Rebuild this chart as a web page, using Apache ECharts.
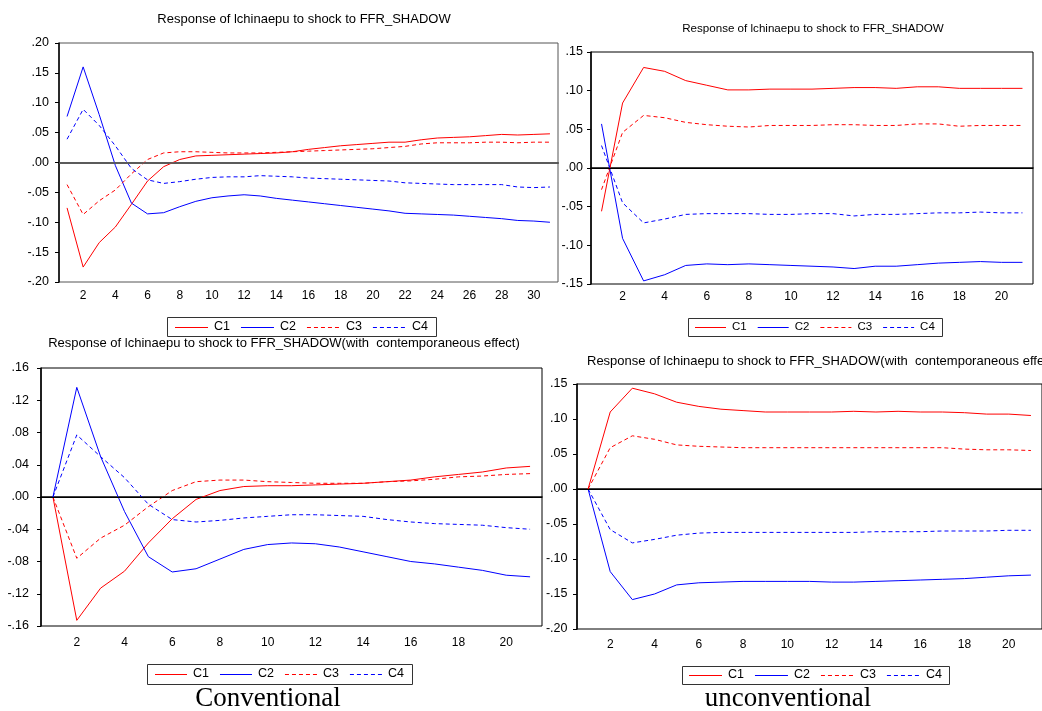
<!DOCTYPE html>
<html>
<head>
<meta charset="utf-8">
<script src="https://cdn.jsdelivr.net/npm/echarts@6/dist/echarts.min.js"></script>
<style>
  html, body { margin: 0; padding: 0; background: #fff; }
  #chart { width: 1042px; height: 711px; }
</style>
</head>
<body>
<div id="chart"></div>
<script>
// horizons
const steps31 = Array.from({ length: 31 }, (_, i) => String(i + 1))
const steps21 = Array.from({ length: 21 }, (_, i) => String(i + 1))
const names = ['C1', 'C2', 'C3', 'C4']

// top left: conventional
const p1C1 = [-0.076, -0.175, -0.134, -0.108, -0.070, -0.031, -0.007, 0.005, 0.011, 0.012, 0.013, 0.014, 0.015, 0.016, 0.018, 0.022, 0.025, 0.028, 0.030, 0.032, 0.034, 0.034, 0.038, 0.041, 0.042, 0.043, 0.045, 0.047, 0.046, 0.047, 0.048]
const p1C2 = [0.077, 0.160, 0.080, -0.005, -0.068, -0.086, -0.084, -0.074, -0.065, -0.059, -0.056, -0.054, -0.056, -0.060, -0.063, -0.066, -0.069, -0.072, -0.075, -0.078, -0.081, -0.085, -0.086, -0.087, -0.088, -0.090, -0.092, -0.094, -0.097, -0.098, -0.100]
const p1C3 = [-0.037, -0.087, -0.064, -0.046, -0.019, 0.005, 0.016, 0.018, 0.018, 0.017, 0.016, 0.016, 0.016, 0.017, 0.018, 0.019, 0.020, 0.021, 0.022, 0.023, 0.025, 0.027, 0.031, 0.033, 0.033, 0.033, 0.034, 0.034, 0.033, 0.034, 0.034]
const p1C4 = [0.039, 0.089, 0.062, 0.028, -0.010, -0.029, -0.035, -0.032, -0.028, -0.025, -0.024, -0.024, -0.022, -0.023, -0.024, -0.026, -0.027, -0.028, -0.029, -0.030, -0.031, -0.034, -0.035, -0.036, -0.037, -0.037, -0.037, -0.037, -0.041, -0.042, -0.041]

// top right: unconventional
const p2C1 = [-0.056, 0.084, 0.130, 0.125, 0.113, 0.107, 0.101, 0.101, 0.102, 0.102, 0.102, 0.103, 0.104, 0.104, 0.103, 0.105, 0.105, 0.103, 0.103, 0.103, 0.103]
const p2C2 = [0.057, -0.091, -0.146, -0.138, -0.126, -0.124, -0.125, -0.124, -0.125, -0.126, -0.127, -0.128, -0.130, -0.127, -0.127, -0.125, -0.123, -0.122, -0.121, -0.122, -0.122]
const p2C3 = [-0.028, 0.046, 0.068, 0.065, 0.059, 0.056, 0.054, 0.053, 0.055, 0.055, 0.055, 0.056, 0.056, 0.055, 0.055, 0.057, 0.057, 0.054, 0.055, 0.055, 0.055]
const p2C4 = [0.029, -0.045, -0.071, -0.066, -0.060, -0.059, -0.059, -0.059, -0.060, -0.060, -0.059, -0.059, -0.062, -0.060, -0.060, -0.059, -0.058, -0.058, -0.057, -0.058, -0.058]

// bottom left: conventional, contemporaneous effect
const p3C1 = [0, -0.153, -0.113, -0.092, -0.057, -0.027, -0.003, 0.008, 0.013, 0.014, 0.014, 0.015, 0.016, 0.017, 0.019, 0.021, 0.025, 0.028, 0.031, 0.036, 0.038]
const p3C2 = [0, 0.136, 0.050, -0.018, -0.074, -0.093, -0.089, -0.077, -0.065, -0.059, -0.057, -0.058, -0.062, -0.068, -0.074, -0.080, -0.083, -0.087, -0.091, -0.097, -0.099]
const p3C3 = [0, -0.076, -0.051, -0.035, -0.012, 0.008, 0.019, 0.021, 0.021, 0.019, 0.018, 0.017, 0.017, 0.017, 0.019, 0.020, 0.022, 0.025, 0.026, 0.028, 0.029]
const p3C4 = [0, 0.077, 0.050, 0.024, -0.009, -0.028, -0.031, -0.029, -0.026, -0.024, -0.022, -0.022, -0.023, -0.024, -0.028, -0.031, -0.033, -0.034, -0.035, -0.038, -0.040]

// bottom right: unconventional, contemporaneous effect
const p4C1 = [0, 0.110, 0.144, 0.136, 0.124, 0.118, 0.114, 0.112, 0.110, 0.110, 0.110, 0.110, 0.111, 0.110, 0.111, 0.110, 0.110, 0.109, 0.107, 0.107, 0.105]
const p4C2 = [0, -0.118, -0.158, -0.150, -0.137, -0.134, -0.133, -0.132, -0.132, -0.132, -0.132, -0.133, -0.133, -0.132, -0.131, -0.130, -0.129, -0.128, -0.126, -0.124, -0.123]
const p4C3 = [0, 0.059, 0.076, 0.071, 0.063, 0.061, 0.060, 0.059, 0.059, 0.059, 0.059, 0.059, 0.059, 0.059, 0.059, 0.059, 0.059, 0.057, 0.056, 0.056, 0.055]
const p4C4 = [0, -0.058, -0.077, -0.072, -0.066, -0.063, -0.062, -0.062, -0.062, -0.062, -0.062, -0.062, -0.062, -0.061, -0.061, -0.061, -0.060, -0.060, -0.060, -0.059, -0.059]

const title1 = 'Response of lchinaepu to shock to FFR_SHADOW'
const title2 = 'Response of lchinaepu to shock to FFR_SHADOW(with  contemporaneous effect)'

const font = '"Liberation Sans", Arial, sans-serif'
const serif = '"Liberation Serif", "Times New Roman", serif'
const lineColors = ['#ff0000', '#0000ff', '#ff0000', '#0000ff']
const lineTypes = ['solid', 'solid', [4, 3], [4, 3]]

const panels = [
  { grid: { left: 59, top: 43, width: 499, height: 239 }, cats: steps31, data: [p1C1, p1C2, p1C3, p1C4],
    min: -0.20, max: 0.20, step: 0.05, frame: '#555', zero: '#666', zeroW: 1.5, yMargin: 10, xMargin: 8,
    legend: { left: 167, top: 317, pad: 8, itemWidth: 33, fontSize: 12.5, h: 19 } },
  { grid: { left: 591, top: 52, width: 442, height: 232 }, cats: steps21, data: [p2C1, p2C2, p2C3, p2C4],
    min: -0.15, max: 0.15, step: 0.05, frame: '#000', zero: '#000', zeroW: 1, yMargin: 8, xMargin: 7,
    legend: { left: 688, top: 318, pad: 7, itemWidth: 31, fontSize: 11.5, h: 18 } },
  { grid: { left: 41, top: 368, width: 501, height: 258 }, cats: steps21, data: [p3C1, p3C2, p3C3, p3C4],
    min: -0.16, max: 0.16, step: 0.04, frame: '#000', zero: '#000', zeroW: 1, yMargin: 12, xMargin: 11,
    legend: { left: 147, top: 664, pad: 8, itemWidth: 32, fontSize: 12.5, h: 20 } },
  { grid: { left: 577, top: 384, width: 478, height: 245 }, cats: steps21, data: [p4C1, p4C2, p4C3, p4C4],
    min: -0.20, max: 0.15, step: 0.05, frame: '#000', zero: '#000', zeroW: 1, yMargin: 9.5, xMargin: 10,
    legend: { left: 682, top: 666, pad: 7, itemWidth: 33, fontSize: 12.5, h: 18 } }
]

const fmt = v => v.toFixed(2).replace('0.', '.')

// text widths for the legend boxes
const measure = document.createElement('canvas').getContext('2d')
const textWidth = (t, size) => { measure.font = size + 'px ' + font; return measure.measureText(t).width }

// EViews-style legend box: line sample + name, drawn as graphic elements
const legendGroup = lg => {
  const textGap = 6, itemGap = 11
  const children = []
  let x = lg.left + lg.pad
  const yMid = lg.top + lg.h / 2
  names.forEach((n, j) => {
    children.push({
      type: 'line',
      shape: { x1: x, y1: Math.round(yMid) + 0.5, x2: x + lg.itemWidth, y2: Math.round(yMid) + 0.5 },
      style: { stroke: lineColors[j], lineWidth: 1, lineDash: lineTypes[j] === 'solid' ? null : lineTypes[j] }
    })
    x += lg.itemWidth + textGap
    children.push({
      type: 'text',
      style: { text: n, x, y: yMid, fill: '#000', fontSize: lg.fontSize, fontFamily: font, verticalAlign: 'middle' }
    })
    x += textWidth(n, lg.fontSize) + itemGap
  })
  const width = x - itemGap + lg.pad - lg.left
  children.unshift({
    type: 'rect',
    shape: { x: lg.left + 0.5, y: lg.top + 0.5, width: Math.round(width), height: lg.h },
    style: { fill: '#fff', stroke: '#333', lineWidth: 1 }
  })
  return { type: 'group', silent: true, children }
}

const chart = echarts.init(document.getElementById('chart'))

const grid = panels.map(p => ({ ...p.grid, show: true, borderColor: p.frame, borderWidth: 1, containLabel: false }))

const xAxis = panels.map((p, i) => ({
  type: 'category',
  gridIndex: i,
  data: p.cats,
  boundaryGap: true,
  axisLine: { lineStyle: { color: '#000', width: 1.5 } },
  axisTick: { interval: 0, length: 5, lineStyle: { color: '#000' } },
  axisLabel: {
    interval: (idx, v) => Number(v) % 2 === 0,
    color: '#000', fontFamily: font, fontSize: 12, margin: p.xMargin
  },
  splitLine: { show: false }
}))

const yAxis = panels.map((p, i) => ({
  type: 'value',
  gridIndex: i,
  min: p.min, max: p.max, interval: p.step,
  axisLine: { show: true, lineStyle: { color: '#000', width: 1.5 } },
  axisTick: { show: true, length: 4, lineStyle: { color: '#000' } },
  axisLabel: { formatter: fmt, color: '#000', fontFamily: font, fontSize: 12.5, margin: p.yMargin },
  splitLine: { show: false }
}))

const series = []
panels.forEach((p, i) => {
  p.data.forEach((vals, j) => {
    const s = {
      name: names[j],
      type: 'line',
      xAxisIndex: i,
      yAxisIndex: i,
      data: vals,
      symbol: 'none',
      lineStyle: { color: lineColors[j], width: 1, type: lineTypes[j] },
      itemStyle: { color: lineColors[j] },
      z: 3
    }
    if (j === 0) {
      s.markLine = {
        silent: true, symbol: ['none', 'none'], label: { show: false },
        lineStyle: { color: p.zero, width: p.zeroW, type: 'solid' },
        data: [{ yAxis: 0 }]
      }
    }
    series.push(s)
  })
})

const tStyle = { color: '#000', fontFamily: font, fontSize: 13, fontWeight: 'normal' }
const capStyle = { color: '#000', fontFamily: serif, fontSize: 27, fontWeight: 'normal' }
const title = [
  { text: title1, left: 304, top: 13, textAlign: 'center', textStyle: tStyle, padding: 0 },
  { text: title1, left: 813, top: 23, textAlign: 'center', textStyle: { ...tStyle, fontSize: 11.6 }, padding: 0 },
  { text: title2, left: 284, top: 337, textAlign: 'center', textStyle: tStyle, padding: 0 },
  { text: title2, left: 587, top: 355, textStyle: tStyle, padding: 0 },
  { text: 'Conventional', left: 268, top: 685, textAlign: 'center', padding: 0, textStyle: capStyle },
  { text: 'unconventional', left: 788, top: 685, textAlign: 'center', padding: 0, textStyle: capStyle }
]

chart.setOption({
  animation: false,
  backgroundColor: '#fff',
  title,
  grid,
  xAxis,
  yAxis,
  series,
  graphic: panels.map(p => legendGroup(p.legend))
})
</script>
</body>
</html>
